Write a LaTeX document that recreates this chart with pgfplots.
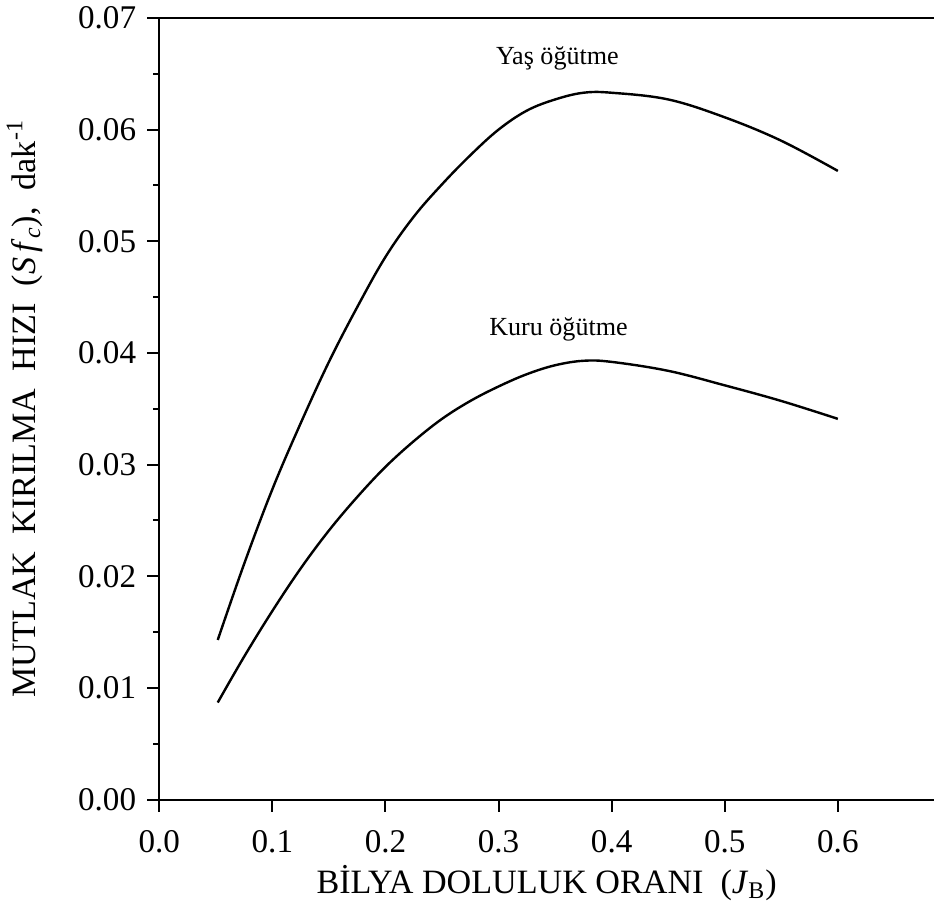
\documentclass[border=0pt]{standalone}
\usepackage{fontspec}
\setmainfont{Liberation Serif}
\usepackage{pgfplots}
\pgfplotsset{compat=1.18}

\pgfplotstableread{
x y
0.0517 0.0143
0.075 0.0211
0.1 0.0278
0.125 0.0337
0.15 0.0392
0.175 0.0441
0.2 0.0486
0.225 0.0522
0.25 0.0551
0.275 0.0577
0.3 0.0600
0.325 0.0617
0.35 0.0627
0.375 0.0633
0.4 0.0633
0.45 0.0627
0.5 0.0611
0.55 0.0590
0.6 0.0563
}\yas

\pgfplotstableread{
x y
0.0517 0.0087
0.075 0.0128
0.1 0.0169
0.125 0.0207
0.15 0.0241
0.175 0.0271
0.2 0.0298
0.225 0.0321
0.25 0.0341
0.275 0.0357
0.3 0.0370
0.325 0.0381
0.35 0.0389
0.375 0.0393
0.4 0.0392
0.45 0.0384
0.5 0.0371
0.55 0.0357
0.6 0.0341
}\kuru

\begin{document}
\begin{tikzpicture}
\begin{axis}[
  scale only axis,
  width=386pt, height=389.5pt,
  xmin=0, xmax=0.685, ymin=0, ymax=0.07,
  axis x line*=bottom, axis y line*=left,
  axis line style={-, line width=1pt},
  xtick={0,0.1,...,0.6},
  ytick={0,0.01,...,0.07},
  minor y tick num=1,
  scaled y ticks=false,
  tick align=outside,
  major tick length=6pt, minor tick length=3pt,
  tick style={line width=1pt, black},
  xticklabel style={/pgf/number format/fixed, /pgf/number format/fixed zerofill, /pgf/number format/precision=1, yshift=-6pt},
  yticklabel style={/pgf/number format/fixed, /pgf/number format/fixed zerofill, /pgf/number format/precision=2, xshift=-2pt},
  /pgf/number format/assume math mode=true,
  tick label style={font=\fontsize{16.5}{18}\selectfont},
  xlabel={BİLYA DOLULUK ORANI~~(\textit{J}\textsubscript{B})},
  xlabel style={font=\fontsize{17}{19}\selectfont, yshift=1pt},
  ylabel={MUTLAK~~KIRILMA~~HIZI~~(\textit{S}\,\textit{f}\textsubscript{\textit{c}}),~~dak\textsuperscript{-1}},
  ylabel style={font=\fontsize{17}{19}\selectfont, yshift=11pt},
  clip=false,
]
\addplot[black, line width=1.2pt, smooth, tension=0.6] table[x=x, y=y] {\yas};
\addplot[black, line width=1.2pt, smooth, tension=0.6] table[x=x, y=y] {\kuru};
\draw[line width=1pt] (rel axis cs:0,1) -- (rel axis cs:1,1);
\node[font=\fontsize{13}{15}\selectfont] at (axis cs:0.352,0.0664) {Yaş öğütme};
\node[font=\fontsize{13}{15}\selectfont] at (axis cs:0.353,0.0421) {Kuru öğütme};
\end{axis}
\end{tikzpicture}
\end{document}
